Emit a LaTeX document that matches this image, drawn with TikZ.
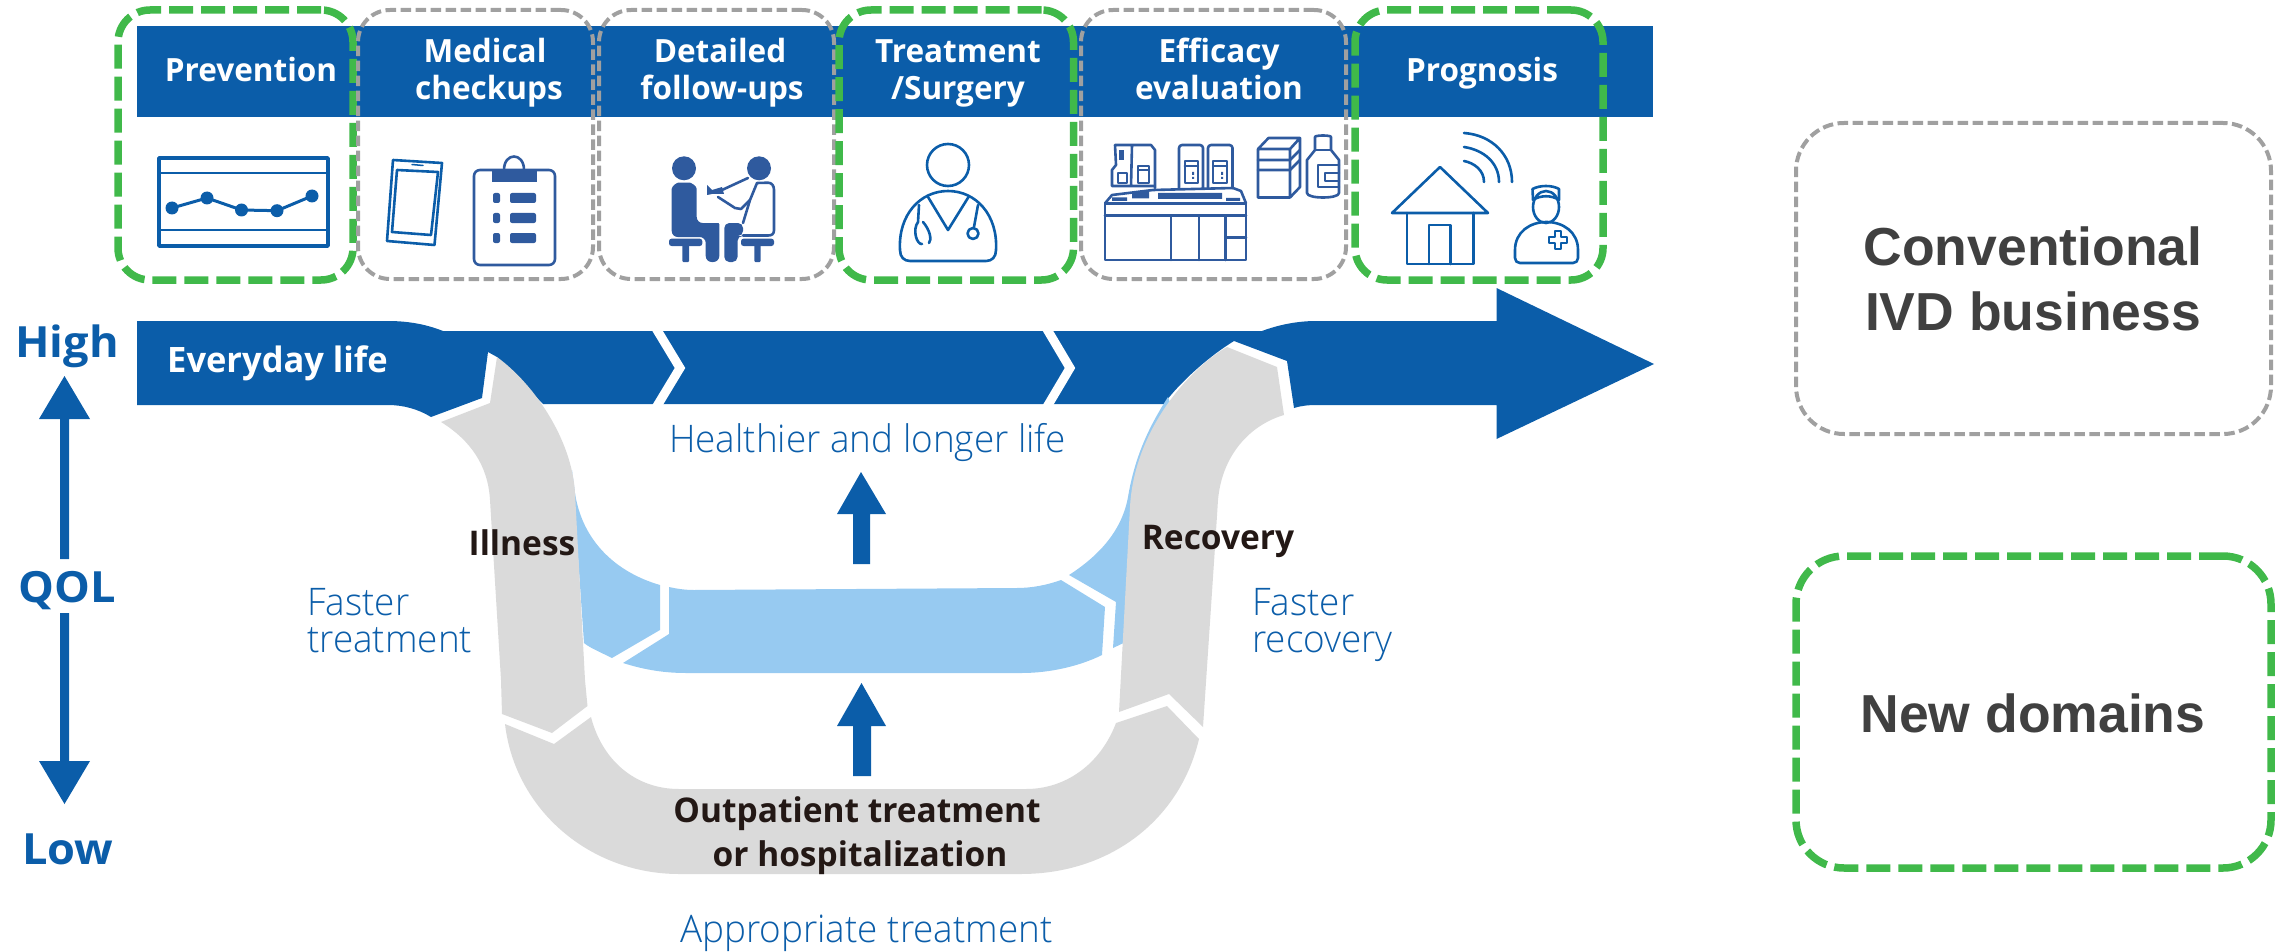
\documentclass[tikz,border=0pt]{standalone}
\usepackage{fontspec}
\setmainfont{Open Sans}[FakeStretch=0.985]
\newfontfamily\lightf{Open Sans Light}[FakeStretch=0.97]
\newfontfamily\qolf{Open Sans}[FakeStretch=1.05]
\newfontfamily\arialf{Liberation Sans}
\definecolor{bandblue}{HTML}{0B5DA9}
\definecolor{iconblue}{HTML}{2F5A9E}
\definecolor{lblue}{HTML}{97CAF1}
\definecolor{grey1}{HTML}{DADADA}
\definecolor{dgreen}{HTML}{40B94A}
\definecolor{dgrey}{HTML}{A0A0A0}
\definecolor{inktext}{HTML}{231815}
\definecolor{legtext}{HTML}{404040}
\tikzset{
  greenbox/.style={draw=dgreen,line width=7.5pt,dash pattern=on 24pt off 8pt,rounded corners=32pt,inner sep=0pt,rectangle},
  greybox/.style={draw=dgrey,line width=4pt,dash pattern=on 10.5pt off 4.5pt,rounded corners=32pt,inner sep=0pt,rectangle},
  legendgrey/.style={greybox,rounded corners=48pt,minimum width=475pt,minimum height=311pt},
  legendgreen/.style={greenbox,rounded corners=48pt,minimum width=475pt,minimum height=312pt},
  headtxt/.style={text=white,font=\fontsize{32}{37}\selectfont\bfseries,inner sep=0pt,anchor=base},
  bluetxt/.style={text=bandblue,font=\fontsize{38}{37}\selectfont\lightf,inner sep=0pt,anchor=base west},
  darktxt/.style={text=inktext,font=\fontsize{34}{44}\selectfont\bfseries,inner sep=0pt,anchor=base},
  qoltxt/.style={text=bandblue,font=\fontsize{43}{44}\selectfont\qolf\bfseries,inner sep=0pt,anchor=base},
  legtxt/.style={text=legtext,font=\fontsize{53.5}{65}\selectfont\arialf\bfseries,inner sep=0pt,anchor=base},
  ico/.style={draw=iconblue,line width=2.6pt,line join=round,line cap=round},
  icob/.style={draw=bandblue,line width=2.6pt,line join=round,line cap=round},
  icofill/.style={fill=iconblue},
  cutline/.style={draw=white,line width=9pt,miter limit=10},
}
\begin{document}
\begin{tikzpicture}[x=1pt,y=-1pt]
\useasboundingbox (0,0) rectangle (2280,952);
% top band
\fill[bandblue] (137,26) rectangle (1653,117);
% main arrow
\fill[bandblue] (137,321) -- (388,321) .. controls (410,321) and (428,325) .. (443,331) -- (1262,331) .. controls (1278,325) and (1297,321) .. (1316,321) -- (1496.5,321) -- (1496.5,288) -- (1654,364) -- (1496.5,439) -- (1496.5,405) -- (1316,405) .. controls (1308,405) and (1300,406) .. (1294,408) -- (1287,361) -- (1234,341) .. controls (1200,362) and (1172,392) .. (1164,404) -- (543,404) -- (497,357) -- (488,352) -- (482,398) -- (431,417) .. controls (418,409) and (403,405) .. (388,405) -- (137,405) -- cycle;
\draw[cutline] (654,325) -- (680,368) -- (654,411);
\draw[cutline] (1044.5,325) -- (1070,368) -- (1044.5,411);
% light blue
\fill[lblue] (572,470) -- (575,493) .. controls (582,540) and (615,572) .. (660,585) -- (660,630) -- (612,658) .. controls (600,652) and (590,648) .. (584,643) -- cycle;
\fill[lblue] (669,587) .. controls (678,589) and (686,590) .. (694,590) -- (1017,588) .. controls (1032,588) and (1047,585) .. (1061,580) -- (1105,607) -- (1102,655) .. controls (1080,666) and (1050,673) .. (1022,673) -- (686,673) .. controls (665,673) and (645,670) .. (623,663) -- (669,634) -- cycle;
\fill[lblue] (1069,575) .. controls (1100,555) and (1122,530) .. (1128,497) .. controls (1135,455) and (1150,425) .. (1168,397) -- (1180,430) -- (1150,520) -- (1130,640) -- (1113,648) -- (1116,602) -- cycle;
% grey pieces
\fill[grey1] (497,357) .. controls (535,385) and (572,440) .. (575,493) -- (585,680) -- (587.5,706) -- (552,733) -- (502,714) -- (501,680) -- (490,500) .. controls (488,465) and (470,440) .. (441,422) -- (490,403) -- cycle;
\fill[grey1] (505,724) -- (554,744) -- (591,717) .. controls (602,760) and (635,789) .. (679,789) -- (1026,789) .. controls (1065,789) and (1100,765) .. (1116,723) -- (1167,706) -- (1199,739) .. controls (1180,820) and (1110,874) .. (1021,874) -- (679,874) .. controls (590,874) and (515,810) .. (505,724) -- cycle;
\fill[grey1] (1119,712) -- (1169,694) -- (1203,727) -- (1215,547) -- (1218,500) .. controls (1222,455) and (1250,425) .. (1284,415) -- (1277,367) -- (1227,347) .. controls (1190,368) and (1134,430) .. (1130,507) -- cycle;
% small arrows
\fill[bandblue] (861,472) -- (886,514) -- (870,514) -- (870,564) -- (853,564) -- (853,514) -- (837,514) -- cycle;
\fill[bandblue] (861.5,683) -- (886,726) -- (871,726) -- (871,776) -- (853,776) -- (853,726) -- (837,726) -- cycle;
% QOL arrows
\fill[bandblue] (64.5,376) -- (90,419) -- (69,419) -- (69,559) -- (60,559) -- (60,419) -- (39,419) -- cycle;
\fill[bandblue] (64.5,804) -- (90,761) -- (69,761) -- (69,613) -- (60,613) -- (60,761) -- (39,761) -- cycle;
% dashed boxes
\node[greenbox,minimum width=235pt,minimum height=270pt] (bPrev) at (235.5,145) {};
\node[greybox,minimum width=235pt,minimum height=269pt] (bMed) at (475.5,144.5) {};
\node[greybox,minimum width=235pt,minimum height=269pt] (bDet) at (716.5,144.5) {};
\node[greenbox,minimum width=234.5pt,minimum height=270pt] (bTreat) at (956.25,145) {};
\node[greybox,minimum width=265pt,minimum height=269pt] (bEff) at (1213.5,144.5) {};
\node[greenbox,minimum width=248pt,minimum height=270pt] (bProg) at (1479,145) {};
\node[legendgrey] (legA) at (2033.5,278.5) {};
\node[legendgreen] (legB) at (2033.5,712) {};
% header text
\node[headtxt] (tPrev) at (251,82) {Prevention};
\node[headtxt] (tMed1) at (485,63) {Medical};
\node[headtxt] (tMed2) at (489,100) {checkups};
\node[headtxt] (tDet1) at (720,63) {Detailed};
\node[headtxt] (tDet2) at (722,100) {follow-ups};
\node[headtxt] (tTre1) at (958,63) {Treatment};
\node[headtxt] (tTre2) at (958,100) {/Surgery};
\node[headtxt] (tEff1) at (1219,63) {Efficacy};
\node[headtxt] (tEff2) at (1219,100) {evaluation};
\node[headtxt] (tPro) at (1482,82) {Prognosis};
\node[headtxt,anchor=base west,font=\fontsize{35}{40}\selectfont\bfseries] (tEvery) at (167,372) {Everyday life};
\node[qoltxt] (tHigh) at (67,357) {High};
\node[qoltxt] (tQol) at (67,602) {QOL};
\node[qoltxt] (tLow) at (68,864) {Low};
\node[darktxt] (tIll) at (522,555) {Illness};
\node[darktxt] (tRec) at (1218,549) {Recovery};
\node[darktxt] (tOut) at (857,822) {Outpatient treatment};
\node[darktxt] (tHos) at (860,866) {or hospitalization};
\node[bluetxt] (tHeal) at (669,452) {Healthier and longer life};
\node[bluetxt] (tF1) at (307,615) {Faster};
\node[bluetxt] (tF2) at (307,652) {treatment};
\node[bluetxt] (tF3) at (1252,615) {Faster};
\node[bluetxt] (tF4) at (1252,652) {recovery};
\node[bluetxt] (tApp) at (680,942) {Appropriate treatment};
\node[legtxt] (lA1) at (2033,265) {Conventional};
\node[legtxt] (lA2) at (2033,330) {IVD business};
\node[legtxt] (lB) at (2033,732) {New domains};
% icon: chart
\draw[icob,line width=3.5pt] (159,158) rectangle (328,246);
\draw[icob,line width=2pt] (159,173) -- (328,173) (159,230) -- (328,230);
\draw[icob,line width=3pt] (172,208) -- (207,198) -- (241.5,210) -- (277,210.7) -- (312,196);
\foreach \p in {(172,208),(207,198),(241.5,210),(277,210.7),(312,196)} \fill[bandblue] \p circle (6.5);
% icon: phone
\draw[icob] (393,160) -- (442,163) -- (434.5,245) -- (387,241) -- cycle;
\draw[icob] (397,170) -- (438,172) -- (431,235) -- (392,232) -- cycle;
\draw[icob,line width=1.5pt] (412,164.5) -- (423,165.5);
% icon: clipboard
\draw[ico,rounded corners=6pt] (474,170) rectangle (555,265);
\draw[ico] (504,170) .. controls (504,152) and (524,152) .. (524,170);
\fill[iconblue] (492,170) rectangle (537,182);
\foreach \y in {198,218,238} {\fill[iconblue,rounded corners=2pt] (493,\y-5) rectangle (500,\y+5); \fill[iconblue,rounded corners=2pt] (510,\y-5) rectangle (536,\y+5);}
% icon: consultation
\fill[iconblue] (684,168.3) circle (12);
\fill[iconblue] (759,168.3) circle (12);
\fill[iconblue,rounded corners=6pt] (671.7,195) .. controls (671.7,186) and (677,182.7) .. (684,182.7) .. controls (691,182.7) and (696.7,186) .. (696.7,195) -- (696.7,223) -- (713,223) .. controls (717,223) and (719.3,226) .. (719.3,230) -- (719.3,262) -- (705.7,262) -- (705.7,237) -- (671.7,237) -- cycle;
\fill[iconblue,rounded corners=2.5pt] (669,238.7) rectangle (702.3,246);
\fill[iconblue,rounded corners=1pt] (682.3,244) rectangle (689,262);
\fill[iconblue,rounded corners=2.5pt] (741,238.7) rectangle (774,246);
\fill[iconblue,rounded corners=1pt] (754.3,244) rectangle (760.7,262);
\fill[iconblue,rounded corners=5pt] (724.3,262) -- (724.3,223) -- (743,223) -- (743,236) -- (737.5,236) -- (737.5,262) -- cycle;
\draw[ico] (743,223) -- (750,200) -- (757,183) -- (768,182.7) .. controls (772,182.7) and (774,186) .. (774,190) -- (774,230) .. controls (774,234) and (772,235.5) .. (768,235.5) -- (743,235.5);
\draw[ico] (750,200) -- (741,209) -- (735,208) -- (718,197);
\draw[ico] (748,178) -- (722,190);
\fill[iconblue] (707,185) -- (712,190) -- (722,187) -- (724,194) -- (712,194) -- (707,195) -- cycle;
% icon: doctor
\draw[icob] (948,165) ellipse (21 and 21);
\draw[icob] (900,250) .. controls (898,215) and (920,191) .. (948,191) .. controls (976,191) and (998,215) .. (996,250) .. controls (996,257) and (992,261) .. (986,261) -- (910,261) .. controls (904,261) and (900,257) .. (900,250) -- cycle;
\draw[icob] (928,197) -- (948,230) -- (968.5,197);
\draw[icob] (919,205) -- (918,222) .. controls (912,230) and (917,245) .. (922,244);
\draw[icob] (923,222) .. controls (930,230) and (932,240) .. (929,243);
\draw[icob] (978,205) -- (974,227);
\draw[icob] (973,233.5) circle (5.5);
% icon: analyser
\draw[ico] (1105,203.3) rectangle (1246,260);
\draw[ico] (1105,215.7) -- (1246,215.7);
\draw[ico] (1171,215.7) -- (1171,260) (1199,215.7) -- (1199,260) (1225.7,215.7) -- (1225.7,260) (1225.7,237.7) -- (1246,237.7);
\draw[ico] (1105,203.3) -- (1112,195) -- (1153,190) -- (1233,188) -- (1241,191) -- (1246,203.3);
\fill[iconblue] (1132,192) rectangle (1149,198.5) (1158,193) rectangle (1222,199) (1112,197.5) rectangle (1127,201) (1226,198) rectangle (1240,201);
\draw[ico] (1115,145) -- (1151,145) -- (1155,150) -- (1155,188) (1115,145) -- (1116,165) -- (1112,170) -- (1112,186) -- (1153,186) (1132,145) -- (1131,186);
\fill[iconblue] (1119,150) rectangle (1124,160);
\draw[ico,line width=2pt] (1118,173) rectangle (1127,183) (1138,166) rectangle (1149,183) (1138,170) -- (1149,170);
\draw[ico,rounded corners=3pt] (1179,188) -- (1179,145) -- (1203,145) -- (1203,188);
\draw[ico,rounded corners=3pt] (1208,188) -- (1208,145) -- (1232.5,145) -- (1232.5,188);
\draw[ico,line width=2pt] (1184.5,161) rectangle (1198,183) (1184.5,166) -- (1198,166) (1213,161) rectangle (1227,183) (1213,166) -- (1227,166);
\fill[iconblue] (1192,172) rectangle (1194,175) (1192,177) rectangle (1194,179) (1221,172) rectangle (1223,175) (1221,177) rectangle (1223,179);
\draw[ico] (1258,149) -- (1268.5,138) -- (1300,138) -- (1290,149) -- cycle (1258,149) rectangle (1290,197.5) (1300,138) -- (1300,187) -- (1290,197.5);
\draw[ico] (1258,160) -- (1290,160) -- (1300,150) (1258,170) -- (1290,170) -- (1300,160);
\draw[ico] (1315,137) .. controls (1315,135) and (1331,135) .. (1331,137) -- (1331,150) -- (1339,160) -- (1339,193) .. controls (1339,199) and (1307,199) .. (1307,193) -- (1307,160) -- (1315,150) -- cycle;
\draw[ico] (1315,150) -- (1331,150) (1339,165) -- (1318,165) -- (1318,187) -- (1339,187) (1339,173) -- (1325,173) -- (1325,181) -- (1339,181);
% icon: house
\draw[icob,miter limit=4] (1440,167) -- (1392,213) -- (1488,213) -- cycle;
\draw[icob] (1407,213) -- (1407,264) -- (1473.6,264) -- (1473.6,213);
\draw[icob] (1429,264) -- (1429,225) -- (1450.6,225) -- (1450.6,264);
\draw[icob] (1464,133) .. controls (1492,135) and (1512,155) .. (1512,182);
\draw[icob] (1464,147) .. controls (1484,150) and (1499,163) .. (1499,182);
\draw[icob] (1464,161) .. controls (1474,163) and (1484,170) .. (1484,182);
% icon: nurse
\draw[icob] (1546,207) ellipse (13 and 16);
\draw[icob] (1533,200) -- (1532.5,189) .. controls (1540,185) and (1552,185) .. (1559,189) -- (1559,200) .. controls (1552,195) and (1540,195) .. (1533,200);
\draw[icob] (1515,250) .. controls (1515,232) and (1530,222) .. (1546.5,222) .. controls (1563,222) and (1578,232) .. (1578,250) -- (1578,258) .. controls (1578,261) and (1576,263) .. (1573,263) -- (1520,263) .. controls (1517,263) and (1515,261) .. (1515,258) -- cycle;
\draw[icob] (1555,231) -- (1561,231) -- (1561,237) -- (1567,237) -- (1567,243) -- (1561,243) -- (1561,249) -- (1555,249) -- (1555,243) -- (1549,243) -- (1549,237) -- (1555,237) -- cycle;
\end{tikzpicture}
\end{document}
